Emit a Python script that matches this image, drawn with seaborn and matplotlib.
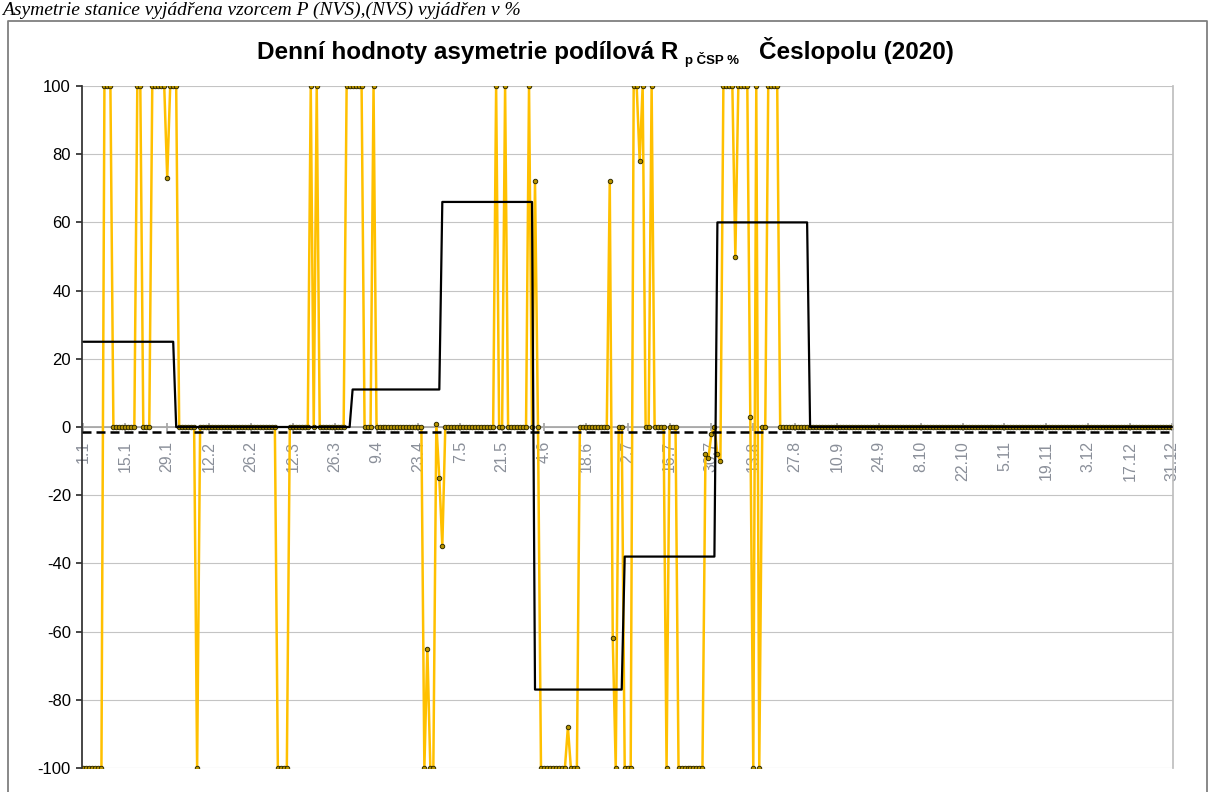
import numpy as np
import pandas as pd
import matplotlib
matplotlib.use("Agg")
import matplotlib.pyplot as plt
import seaborn as sns

# ---------------- data ----------------
# daily asymmetry values R (%), one list per month (365-day axis)
jan = [-100, -100, -100, -100, -100, -100, -100, 100, 100, 100,
       0, 0, 0, 0, 0, 0, 0, 0, 100, 100,
       0, 0, 0, 100, 100, 100, 100, 100, 73, 100,
       100]
feb = [100, 0, 0, 0, 0, 0, 0, -100, 0, 0,
       0, 0, 0, 0, 0, 0, 0, 0, 0, 0,
       0, 0, 0, 0, 0, 0, 0, 0]
mar = [0, 0, 0, 0, 0, 0, -100, -100, -100, -100,
       0, 0, 0, 0, 0, 0, 0, 100, 0, 100,
       0, 0, 0, 0, 0, 0, 0, 0, 0, 100,
       100]
apr = [100, 100, 100, 100, 0, 0, 0, 100, 0, 0,
       0, 0, 0, 0, 0, 0, 0, 0, 0, 0,
       0, 0, 0, 0, -100, -65, -100, -100, 1, -15]
may = [-35, 0, 0, 0, 0, 0, 0, 0, 0, 0,
       0, 0, 0, 0, 0, 0, 0, 0, 100, 0,
       0, 100, 0, 0, 0, 0, 0, 0, 0, 100,
       0]
jun = [72, 0, -100, -100, -100, -100, -100, -100, -100, -100,
       -100, -88, -100, -100, -100, 0, 0, 0, 0, 0,
       0, 0, 0, 0, 0, 72, -62, -100, 0, 0]
jul = [-100, -100, -100, 100, 100, 78, 100, 0, 0, 100,
       0, 0, 0, 0, -100, 0, 0, 0, -100, -100,
       -100, -100, -100, -100, -100, -100, -100, -8, -9, -2,
       0]
aug = [-8, -10, 100, 100, 100, 100, 50, 100, 100, 100,
       100, 3, -100, 100, -100, 0, 0, 100, 100, 100,
       100, 0, 0, 0, 0, 0, 0, 0, 0, 0,
       0]
sep = [0, 0, 0, 0, 0, 0, 0, 0, 0, 0,
       0, 0, 0, 0, 0, 0, 0, 0, 0, 0,
       0, 0, 0, 0, 0, 0, 0, 0, 0, 0]
oct_ = [0, 0, 0, 0, 0, 0, 0, 0, 0, 0,
        0, 0, 0, 0, 0, 0, 0, 0, 0, 0,
        0, 0, 0, 0, 0, 0, 0, 0, 0, 0,
        0]
nov = [0, 0, 0, 0, 0, 0, 0, 0, 0, 0,
       0, 0, 0, 0, 0, 0, 0, 0, 0, 0,
       0, 0, 0, 0, 0, 0, 0, 0, 0, 0]
dec = [0, 0, 0, 0, 0, 0, 0, 0, 0, 0,
       0, 0, 0, 0, 0, 0, 0, 0, 0, 0,
       0, 0, 0, 0, 0, 0, 0, 0, 0, 0,
       0]

month_lengths = [31, 28, 31, 30, 31, 30, 31, 31, 30, 31, 30, 31]
monthly_values = [25, 0, 0, 11, 66, -77, -38, 60, 0, 0, 0, 0]   # black step line
annual_value = -1.4                                              # dashed line

tick_labels = ["1.1", "15.1", "29.1", "12.2", "26.2", "12.3", "26.3", "9.4",
               "23.4", "7.5", "21.5", "4.6", "18.6", "2.7", "16.7", "30.7",
               "13.8", "27.8", "10.9", "24.9", "8.10", "22.10", "5.11",
               "19.11", "3.12", "17.12", "31.12"]

title_main = "Denní hodnoty asymetrie podílová R"
title_sub = "p ČSP %"
title_end = "Česlopolu (2020)"
header_text = "Asymetrie stanice vyjádřena vzorcem P (NVS),(NVS) vyjádřen v %"

# ---------------- build table ----------------
daily = jan + feb + mar + apr + may + jun + jul + aug + sep + oct_ + nov + dec
n_days = len(daily)
df = pd.DataFrame({
    "day": np.arange(n_days),
    "value": daily,
    "month_value": np.repeat(monthly_values, month_lengths),
})
tick_days = list(range(0, n_days, 14))

# ---------------- style ----------------
sns.set_theme(style="white")
plt.rcParams["font.family"] = ["Liberation Sans", "DejaVu Sans"]
plt.rcParams["axes.unicode_minus"] = False
plt.rcParams["text.color"] = "black"

W, H = 1211, 792
fig = plt.figure(figsize=(W / 100, H / 100), dpi=100)
ax = fig.add_axes([82 / W, 24 / H, 1091.4 / W, 682 / H])

sns.lineplot(data=df, x="day", y="value", ax=ax, color="#FFC000", lw=1.8,
             marker="o", markersize=3.2, markerfacecolor="#B89400",
             markeredgecolor="#332D00", markeredgewidth=0.7, zorder=2)
sns.lineplot(data=df, x="day", y="month_value", ax=ax, color="black",
             lw=1.6, zorder=3)
ax.axhline(annual_value, color="black", lw=1.8, dashes=(3.6, 2.0), zorder=4)

ax.set_xlim(-0.5, n_days - 0.5)
ax.set_ylim(-100, 100)
ax.set_yticks(range(-100, 101, 20))
ax.grid(axis="y", color="#C4C4C4", lw=0.8)
ax.grid(axis="x", visible=False)
ax.set_axisbelow(True)

ax.spines["bottom"].set_position(("data", 0))
ax.spines["bottom"].set_color("#A6A6A6")
ax.spines["bottom"].set_zorder(0.6)
ax.spines["top"].set_visible(False)
ax.spines["right"].set_color("#BFBFBF")
ax.spines["left"].set_color("#303030")

ax.set_xticks(tick_days)
ax.set_xticklabels(tick_labels, rotation=90, color="#8A8F99", fontsize=11.5)
ax.tick_params(axis="x", bottom=True, direction="inout", length=6,
               color="#A6A6A6", pad=7)
ax.tick_params(axis="y", left=True, direction="out", length=4,
               color="#303030", labelsize=12, pad=4, labelcolor="black")
ax.set_xlabel("")
ax.set_ylabel("")

# ---------------- title (with subscript) ----------------
fig.text(257 / W, 1 - 59 / H, title_main, fontsize=17.5, fontweight="bold",
         color="black", ha="left", va="baseline")
fig.text(685 / W, 1 - 64 / H, title_sub, fontsize=9.5, fontweight="bold",
         color="black", ha="left", va="baseline")
fig.text(759 / W, 1 - 59 / H, title_end, fontsize=17.5, fontweight="bold",
         color="black", ha="left", va="baseline")

# document line above the chart
fig.text(2 / W, 1 - 15 / H, header_text, fontsize=14, family="Liberation Serif",
         style="italic", color="black", ha="left", va="baseline")

# chart-area frame
fig.add_artist(plt.Line2D([8 / W, 8 / W, 1207 / W, 1207 / W],
                          [0, 1 - 21 / H, 1 - 21 / H, 0],
                          transform=fig.transFigure, color="#7F7F7F", lw=1.3))

fig.savefig("out.png", dpi=100)
